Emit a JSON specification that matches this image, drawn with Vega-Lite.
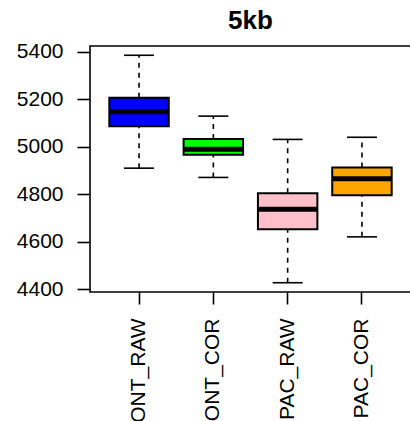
{
  "$schema": "https://vega.github.io/schema/vega-lite/v6.json",
  "autosize": {"type": "none"},
  "padding": {"left": 90, "top": 46, "right": 0, "bottom": 129},
  "width": 321,
  "height": 246,
  "background": "white",
  "title": {"text": "5kb", "fontSize": 26, "fontWeight": "bold", "font": "Liberation Sans", "color": "black", "anchor": "middle", "offset": 7},
  "config": {
    "view": {"stroke": "black", "strokeWidth": 1.6},
    "axis": {"labelFont": "Liberation Sans", "labelFontSize": 21, "labelColor": "black", "tickColor": "black", "tickWidth": 1.6, "grid": false, "domain": false, "title": null}
  },
  "data": {"values": [
    {"group": "ONT_RAW", "min": 4910, "q1": 5086, "median": 5147, "q3": 5206, "max": 5385},
    {"group": "ONT_COR", "min": 4871, "q1": 4966, "median": 4990, "q3": 5033, "max": 5129},
    {"group": "PAC_RAW", "min": 4428, "q1": 4653, "median": 4737, "q3": 4804, "max": 5031},
    {"group": "PAC_COR", "min": 4621, "q1": 4796, "median": 4866, "q3": 4913, "max": 5040}
  ]},
  "encoding": {
    "x": {"field": "group", "type": "nominal", "sort": null,
      "scale": {"paddingInner": 0.2, "paddingOuter": 0.26},
      "axis": {"labelAngle": -90, "tickSize": 12, "labelPadding": 14, "labelOverlap": false, "labelLimit": 0}}
  },
  "layer": [
    {"mark": {"type": "rule", "strokeDash": [5, 5], "strokeWidth": 1.6, "color": "black"},
     "encoding": {"y": {"field": "q3", "type": "quantitative", "scale": {"domain": [4389, 5424], "nice": false, "zero": false},
        "axis": {"values": [4400, 4600, 4800, 5000, 5200, 5400], "format": "d", "tickSize": 13, "labelPadding": 14}},
       "y2": {"field": "max"}}},
    {"mark": {"type": "rule", "strokeDash": [5, 5], "strokeWidth": 1.6, "color": "black"},
     "encoding": {"y": {"field": "min", "type": "quantitative"}, "y2": {"field": "q1"}}},
    {"mark": {"type": "tick", "size": 30, "thickness": 1.6, "color": "black", "opacity": 1},
     "encoding": {"y": {"field": "max", "type": "quantitative"}}},
    {"mark": {"type": "tick", "size": 30, "thickness": 1.6, "color": "black", "opacity": 1},
     "encoding": {"y": {"field": "min", "type": "quantitative"}}},
    {"mark": {"type": "bar", "stroke": "black", "strokeWidth": 2, "opacity": 1},
     "encoding": {"y": {"field": "q1", "type": "quantitative"}, "y2": {"field": "q3"},
       "color": {"field": "group", "type": "nominal", "legend": null,
         "scale": {"domain": ["ONT_RAW", "ONT_COR", "PAC_RAW", "PAC_COR"], "range": ["#0000FF", "#00FF00", "#FFC0CB", "#FFA500"]}}}},
    {"mark": {"type": "tick", "size": 59, "thickness": 5, "color": "black", "opacity": 1},
     "encoding": {"y": {"field": "median", "type": "quantitative"}}}
  ]
}
